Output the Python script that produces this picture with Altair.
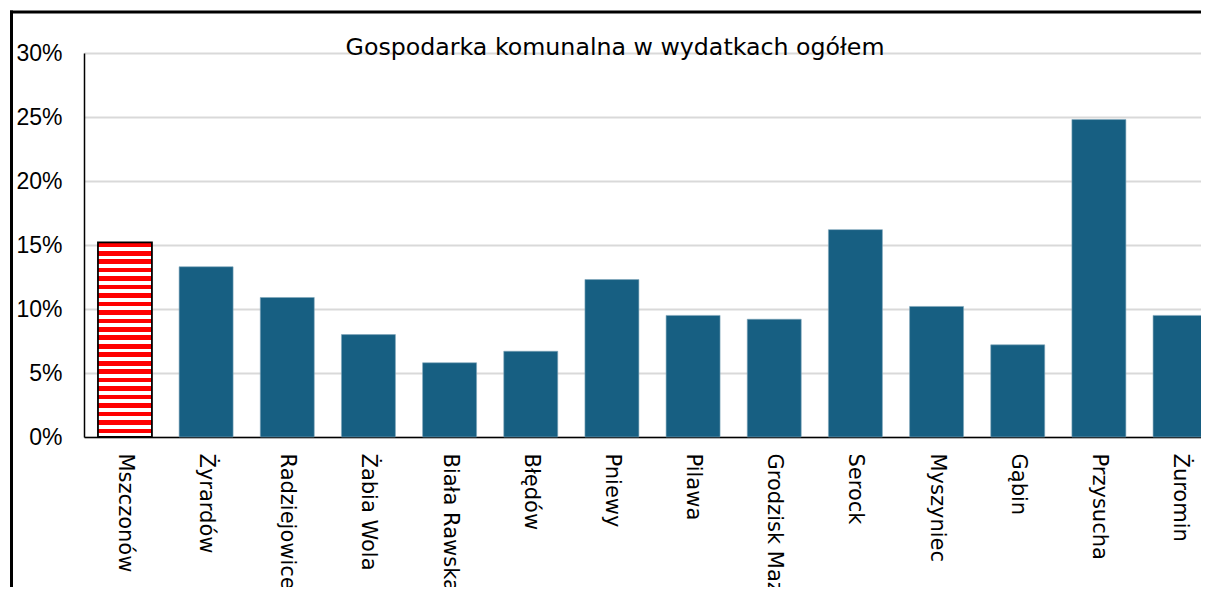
import altair as alt
import pandas as pd

names = ["Mszczonów", "Żyrardów", "Radziejowice", "Żabia Wola", "Biała Rawska",
         "Błędów", "Pniewy", "Pilawa", "Grodzisk Maz.", "Serock", "Myszyniec",
         "Gąbin", "Przysucha", "Żuromin"]
values = [15.2, 13.3, 10.9, 8.0, 5.8, 6.7, 12.3, 9.5, 9.2, 16.2, 10.2, 7.2, 24.8, 9.5]
y_ticks = [0, 5, 10, 15, 20, 25, 30]
highlight = "Mszczonów"
title_text = "Gospodarka komunalna w wydatkach ogółem"

df = pd.DataFrame({"gmina": names, "udzial": values})

# red/white horizontal stripe pattern for the highlighted bar
n_stripes = 23
stops = []
for i in range(n_stripes):
    a = i / n_stripes
    b = (i + 0.55) / n_stripes
    c = min((i + 1) / n_stripes, 1.0)
    stops += [{"offset": a, "color": "#ff0000"}, {"offset": b, "color": "#ff0000"},
              {"offset": b, "color": "#ffffff"}, {"offset": c, "color": "#ffffff"}]
stripes = alt.Gradient(gradient="linear", stops=stops, x1=0, x2=0, y1=0, y2=1)

x_enc = alt.X("gmina:N", sort=names,
              scale=alt.Scale(range=[0, 1137], paddingInner=0.335, paddingOuter=0.172),
              axis=alt.Axis(title=None, labelAngle=90, ticks=False, labelPadding=16,
                            labelFont="DejaVu Sans", labelFontSize=21, labelColor="black",
                            domainColor="black", domainWidth=1.5, grid=False))
y_enc = alt.Y("udzial:Q", scale=alt.Scale(domain=[0, 30], nice=False),
              axis=alt.Axis(title=None, values=y_ticks, labelExpr="datum.value + '%'",
                            ticks=False, labelPadding=22, labelFont="Liberation Sans",
                            labelFontSize=23, labelColor="black", domainColor="black",
                            domainWidth=1.5, gridColor="#d9d9d9", gridWidth=2))

base = alt.Chart(df).encode(x=x_enc, y=y_enc)

bars = base.mark_bar(color="#175f82", stroke="#7fa6ba", strokeWidth=0.6).transform_filter(
    alt.datum.gmina != highlight)
hl = base.mark_bar(fill=stripes, stroke="black", strokeWidth=1.8).transform_filter(
    alt.datum.gmina == highlight)

title = alt.Chart(alt.Data(values=[{"t": title_text}])).mark_text(
    font="DejaVu Sans", fontSize=23.7, baseline="alphabetic", align="center", color="black"
).encode(text="t:N", x=alt.value(531), y=alt.value(2))

frame_left = alt.Chart(alt.Data(values=[{}])).mark_rule(color="black", strokeWidth=3).encode(
    x=alt.value(-72.5), y=alt.value(-42.5), y2=alt.value(600))
frame_top = alt.Chart(alt.Data(values=[{}])).mark_rule(color="black", strokeWidth=3).encode(
    x=alt.value(-74), x2=alt.value(1200), y=alt.value(-41))

chart = alt.layer(bars, hl, title, frame_left, frame_top).properties(
    width=1117, height=384,
    autosize=alt.AutoSizeParams(type="none"),
    padding={"left": 76, "top": 45, "right": 0, "bottom": 150},
    background="white",
).configure_view(stroke=None)

chart.save("out.html", embed_options={"renderer": "svg", "actions": False})
